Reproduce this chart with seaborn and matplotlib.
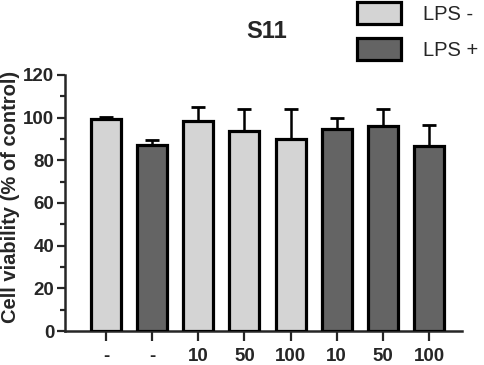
import matplotlib
matplotlib.use("Agg")
import matplotlib.pyplot as plt
import seaborn as sns
import pandas as pd
import numpy as np

# data
tick_labels = ["-", "-", "10", "50", "100", "10", "50", "100"]
groups = ["LPS -", "LPS +", "LPS -", "LPS -", "LPS -", "LPS +", "LPS +", "LPS +"]
means = [99.5, 87.0, 98.5, 93.5, 90.0, 94.5, 96.0, 86.5]
errs = [0.8, 2.5, 6.5, 10.5, 14.0, 5.5, 8.0, 10.0]

df = pd.DataFrame({"pos": range(len(means)), "viab": means, "grp": groups})

sns.set_style("ticks")
plt.rcParams["font.family"] = ["Liberation Sans", "DejaVu Sans"]

fig = plt.figure(figsize=(4.84, 3.65), dpi=100)
ax = fig.add_axes([0.134, 0.093, 0.821, 0.702])

pal = {"LPS -": "#d4d4d4", "LPS +": "#646464"}
sns.barplot(data=df, x="pos", y="viab", hue="grp", hue_order=["LPS -", "LPS +"],
            palette=pal, dodge=False, width=0.65, edgecolor="black",
            linewidth=2.3, saturation=1, ax=ax, zorder=3)

ax.errorbar(df["pos"], means, yerr=[np.zeros(len(errs)), errs], fmt="none",
            ecolor="black", elinewidth=1.8, capsize=5, capthick=2, zorder=2)

ax.set_xlim(-0.89, 7.72)
ax.set_ylim(0, 120)
ax.set_yticks(range(0, 121, 20))
ax.set_yticks(range(10, 120, 20), minor=True)
ax.set_xticks(range(len(tick_labels)))
ax.set_xticklabels(tick_labels, fontsize=13.5, fontweight="bold")
for t in ax.get_yticklabels():
    t.set_fontsize(13.5)
    t.set_fontweight("bold")
ax.tick_params(axis="both", which="major", length=6, width=1.6)
ax.tick_params(axis="y", which="major", pad=1.5)
ax.tick_params(axis="y", which="minor", length=3.5, width=1.6)
ax.tick_params(axis="x", length=7, pad=5)
ax.set_xlabel("")
ax.set_ylabel("Cell viability (% of control)", fontsize=14.5, fontweight="bold")
ax.yaxis.set_label_coords(-0.113, 0.523)
sns.despine(ax=ax)
for s in ["left", "bottom"]:
    ax.spines[s].set_linewidth(1.8)

fig.text(267 / 484, 1 - 31 / 365, "S11", ha="center", va="center",
         fontsize=17, fontweight="bold")

handles, labels = ax.get_legend_handles_labels()
if ax.legend_:
    ax.legend_.remove()
leg = fig.legend(handles, labels, loc="upper left", bbox_to_anchor=(355 / 484, 1.0),
                 frameon=False, fontsize=14.5, handlelength=2.2, handleheight=1.3,
                 labelspacing=0.7, handletextpad=1.1, borderaxespad=0, borderpad=0.1)
for h in leg.legend_handles:
    h.set_edgecolor("black")
    h.set_linewidth(2.3)

fig.savefig("out.png", dpi=100)
